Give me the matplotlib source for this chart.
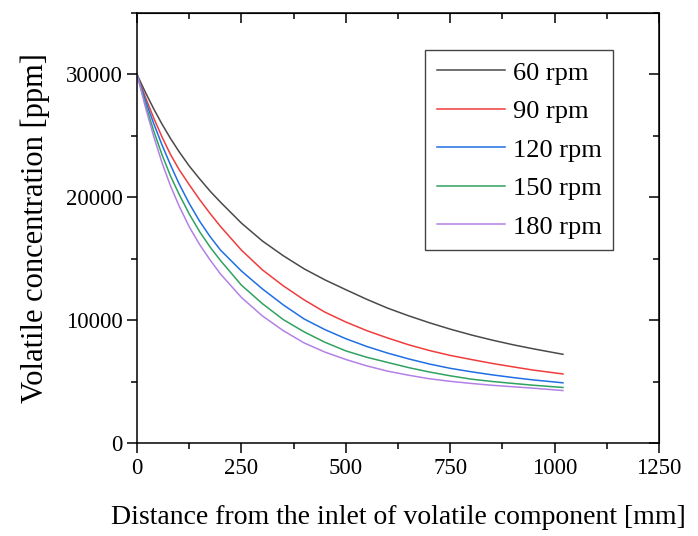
# -*- coding: utf-8 -*-
"""
Volatile concentration along the extruder for several screw speeds
"""
import matplotlib
matplotlib.use("Agg")
import matplotlib.pyplot as plt
from matplotlib.ticker import MultipleLocator

# Data
distance = [0, 20, 40, 60, 80, 100, 125, 150, 175, 200, 250, 300, 350, 400,
            450, 500, 550, 600, 650, 700, 750, 800, 850, 900, 950, 1020]

conc_60 = [30000, 28550, 27200, 25950, 24800, 23750, 22550, 21500, 20500, 19600,
           17900, 16450, 15250, 14180, 13280, 12480, 11700, 10980, 10360, 9790,
           9270, 8800, 8380, 8000, 7660, 7220]
conc_90 = [30000, 28150, 26450, 24900, 23500, 22300, 21030, 19810, 18680, 17620,
           15700, 14100, 12800, 11655, 10650, 9850, 9150, 8550, 8000, 7530,
           7130, 6800, 6480, 6200, 5930, 5620]
conc_120 = [30000, 27900, 26000, 24250, 22650, 21150, 19500, 18050, 16800, 15700,
            14000, 12550, 11250, 10100, 9230, 8490, 7860, 7320, 6850, 6430,
            6080, 5800, 5550, 5330, 5130, 4900]
conc_150 = [30000, 27600, 25400, 23450, 21750, 20300, 18650, 17200, 15950, 14850,
            12850, 11350, 10050, 9050, 8200, 7500, 6980, 6560, 6140, 5780,
            5470, 5200, 5010, 4850, 4700, 4520]
conc_180 = [30000, 27350, 24950, 22800, 20950, 19350, 17600, 16150, 14900, 13750,
            11850, 10350, 9150, 8150, 7400, 6800, 6280, 5850, 5520, 5230,
            5020, 4850, 4700, 4580, 4460, 4270]

labels = ["60 rpm", "90 rpm", "120 rpm", "150 rpm", "180 rpm"]
colors = ["#4a4a4a", "#f03c3c", "#1f6fe3", "#30a25f", "#b381e6"]

plt.rcParams["font.family"] = ["Liberation Serif", "DejaVu Serif"]

fig = plt.figure(figsize=(6.98, 5.36), dpi=100)
ax = fig.add_axes([0.1963, 0.1735, 0.7478, 0.8022])

for conc, lab, col in zip([conc_60, conc_90, conc_120, conc_150, conc_180], labels, colors):
    ax.plot(distance, conc, color=col, lw=1.1, label=lab)

ax.set_xlim(0, 1250)
ax.set_ylim(0, 35000)
ax.xaxis.set_major_locator(MultipleLocator(250))
ax.xaxis.set_minor_locator(MultipleLocator(125))
ax.yaxis.set_major_locator(MultipleLocator(10000))
ax.yaxis.set_minor_locator(MultipleLocator(5000))
ax.tick_params(which="major", direction="out", length=7, width=1.1, labelsize=16.5)
ax.tick_params(which="minor", direction="out", length=4, width=1.1)
for sp in ax.spines.values():
    sp.set_linewidth(1.1)

# ticks on top and right point inwards
top = ax.secondary_xaxis("top")
top.xaxis.set_major_locator(MultipleLocator(250))
top.xaxis.set_minor_locator(MultipleLocator(125))
top.tick_params(which="major", direction="in", length=7, width=1.1, labeltop=False)
top.tick_params(which="minor", direction="in", length=4, width=1.1)
right = ax.secondary_yaxis("right")
right.yaxis.set_major_locator(MultipleLocator(10000))
right.yaxis.set_minor_locator(MultipleLocator(5000))
right.tick_params(which="major", direction="in", length=7, width=1.1, labelright=False)
right.tick_params(which="minor", direction="in", length=4, width=1.1)

ax.set_xlabel("Distance from the inlet of volatile component [mm]", fontsize=20, labelpad=19)
ax.set_ylabel("Volatile concentration [ppm]", fontsize=22, labelpad=11)

leg = ax.legend(loc="upper right", bbox_to_anchor=(0.912, 0.914), borderaxespad=0,
                fontsize=19, frameon=True, fancybox=False, framealpha=1,
                edgecolor="#444444", handlelength=2.6, handletextpad=0.3,
                labelspacing=0.57, borderpad=0.42)
leg.get_frame().set_linewidth(1.0)

fig.savefig("out.png", dpi=100)
